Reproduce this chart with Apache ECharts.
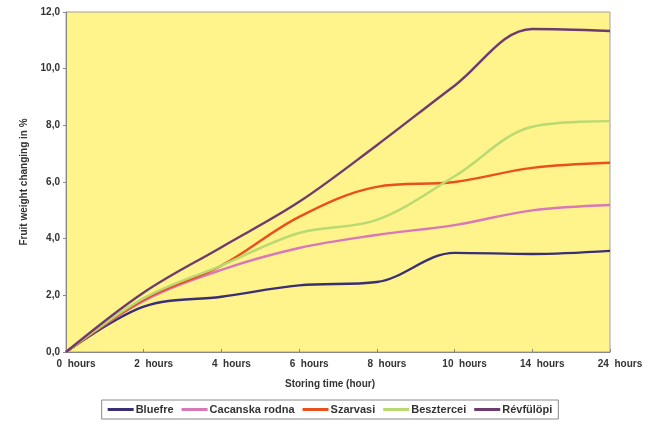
<!DOCTYPE html>
<html><head><meta charset="utf-8">
<script src="https://cdn.jsdelivr.net/npm/echarts@6/dist/echarts.min.js"></script>
<style>html,body{margin:0;padding:0;background:#fff}#c{width:660px;height:424px}</style>
</head><body><div id="c"></div>
<script>
var categories = ['0', '2', '4', '6', '8', '10', '14', '24'];
var seriesNames = ['Bluefre', 'Cacanska rodna', 'Szarvasi', 'Besztercei', 'Révfülöpi'];
var bluefre = [0, 1.6, 1.95, 2.35, 2.47, 3.5, 3.46, 3.57];
var cacanska = [0, 1.8, 2.9, 3.67, 4.13, 4.48, 5.0, 5.19];
var szarvasi = [0, 1.85, 3.05, 4.77, 5.83, 6.0, 6.5, 6.68];
var besztercei = [0, 1.9, 3.05, 4.2, 4.66, 6.2, 7.95, 8.15];
var revfulopi = [0, 2.1, 3.7, 5.3, 7.3, 9.4, 11.4, 11.33];
var yTicks = [0, 2, 4, 6, 8, 10, 12];
var colors = ['#3b2f74', '#d878b8', '#e8501c', '#b8da70', '#6e3b6e'];
var allData = [bluefre, cacanska, szarvasi, besztercei, revfulopi];

var chart = echarts.init(document.getElementById('c'));
var font = 'Liberation Sans, Arial, sans-serif';
chart.setOption({
  backgroundColor: '#fff',
  animation: false,
  grid: {left: 66, right: 50, top: 12, bottom: 72, show: true, backgroundColor: '#fff38c', borderColor: '#a0a0a0', borderWidth: 1},
  xAxis: {
    type: 'category', data: categories, boundaryGap: false,
    name: 'Storing time (hour)', nameLocation: 'middle', nameGap: 27,
    nameTextStyle: {fontFamily: font, fontWeight: 'bold', fontSize: 10, color: '#333', padding: [0, 0, 0, -16]},
    axisLine: {lineStyle: {color: '#888'}},
    axisTick: {show: true, inside: true, length: 3, lineStyle: {color: '#888'}},
    axisLabel: {fontFamily: font, fontWeight: 'bold', fontSize: 10, color: '#333', margin: 7,
      align: 'center', padding: [0, 0, 0, 20],
      formatter: function (v) { return v + '  hours'; }},
    splitLine: {show: false}
  },
  yAxis: {
    type: 'value', min: 0, max: 12, interval: 2,
    name: 'Fruit weight changing in %', nameLocation: 'middle', nameGap: 36,
    nameTextStyle: {fontFamily: font, fontWeight: 'bold', fontSize: 10, color: '#333'},
    axisLine: {show: true, lineStyle: {color: '#888'}},
    axisTick: {show: true, length: 3, lineStyle: {color: '#888'}},
    axisLabel: {fontFamily: font, fontWeight: 'bold', fontSize: 10, color: '#333', margin: 6,
      formatter: function (v) { return v.toFixed(1).replace('.', ','); }},
    splitLine: {show: false}
  },
  legend: {
    bottom: 5, left: 'center', itemWidth: 26, itemHeight: 3, itemGap: 8,
    icon: 'rect', borderColor: '#8a8a8a', borderWidth: 1, padding: [4, 6],
    textStyle: {fontFamily: font, fontWeight: 'bold', fontSize: 11, color: '#333', padding: [0, 0, 0, -3]},
    data: seriesNames
  },
  series: seriesNames.map(function (n, i) {
    return {name: n, type: 'line', data: allData[i], smooth: 0.35, symbol: 'none',
      lineStyle: {width: 2.4, color: colors[i]}, itemStyle: {color: colors[i]}};
  })
});
</script></body></html>
